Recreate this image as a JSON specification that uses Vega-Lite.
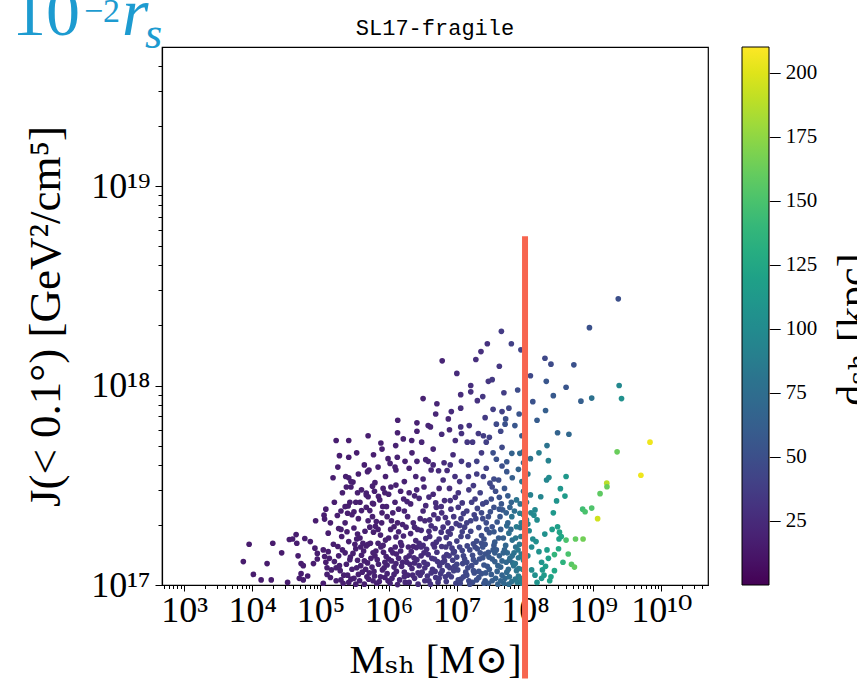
{
  "$schema": "https://vega.github.io/schema/vega-lite/v6.json",
  "width": 546,
  "height": 538,
  "autosize": {"type": "none"},
  "padding": {"left": 162, "top": 47, "right": 149, "bottom": 96},
  "background": "white",
  "title": {"text": "SL17-fragile", "font": "Liberation Mono", "fontSize": 22, "fontWeight": "normal", "color": "black", "anchor": "middle", "frame": "group", "baseline": "alphabetic", "offset": 0, "dy": 76},
  "config": {"view": {"stroke": "black", "strokeWidth": 1.2}},
  "datasets": {
    "pts": [
      {"m":2.33e9,"j":2.72e18,"d":50},{"m":8.8e8,"j":1.95e18,"d":52},{"m":5.2e8,"j":1.27e18,"d":52},{"m":2.4e8,"j":1.28e18,"d":47},
      {"m":1.96e8,"j":1.37e18,"d":45},{"m":2.05e8,"j":1.05e18,"d":56},{"m":2.6e8,"j":8.9e17,"d":58},{"m":8.7e7,"j":1.51e18,"d":42},
      {"m":6.3e7,"j":1.62e18,"d":40},{"m":4.5e7,"j":1.87e18,"d":36},{"m":2.8e7,"j":1.62e18,"d":30},{"m":2.26e7,"j":1.48e18,"d":28},
      {"m":6.1e6,"j":1.33e18,"d":21},{"m":7.8e7,"j":9.5e17,"d":48},{"m":3.3e7,"j":1.07e18,"d":34},{"m":2.9e7,"j":1.05e18,"d":33},
      {"m":1.6e7,"j":1.0e18,"d":28},{"m":1.6e7,"j":9.3e17,"d":29},{"m":1.14e7,"j":9.0e17,"d":26},{"m":2.4e7,"j":8.8e17,"d":33},
      {"m":5.1e6,"j":8.1e17,"d":22},{"m":4.9e6,"j":7.2e17,"d":22},{"m":8.3e6,"j":7.4e17,"d":25},{"m":1.14e7,"j":7.7e17,"d":27},
      {"m":3.4e7,"j":7.6e17,"d":38},{"m":5.8e7,"j":7.7e17,"d":44},{"m":6.0e6,"j":5.7e17,"d":25},{"m":1.5e8,"j":6.7e17,"d":60},
      {"m":3.0e8,"j":5.8e17,"d":66},{"m":4.4e8,"j":5.7e17,"d":70},{"m":2.1e8,"j":5.0e17,"d":80},{"m":9.5e8,"j":8.65e17,"d":78},
      {"m":6.6e8,"j":8.35e17,"d":62},{"m":2.6e9,"j":8.6e17,"d":105},{"m":2.4e9,"j":1.0e18,"d":98},{"m":6.8e9,"j":5.2e17,"d":205},
      {"m":5.0e9,"j":3.55e17,"d":205},{"m":2.24e9,"j":4.65e17,"d":162},{"m":1.58e9,"j":3.24e17,"d":188},{"m":1.59e9,"j":3.11e17,"d":162},
      {"m":1.26e9,"j":2.87e17,"d":158},{"m":1.16e9,"j":2.15e17,"d":195},{"m":9.5e8,"j":2.43e17,"d":152},{"m":7.0e8,"j":2.40e17,"d":145},
      {"m":7.6e8,"j":2.33e17,"d":150},{"m":4.0e8,"j":3.5e17,"d":112},{"m":2.07e8,"j":3.36e17,"d":96},{"m":2.24e8,"j":3.46e17,"d":100},
      {"m":2.2e8,"j":4.2e17,"d":92},{"m":1.6e8,"j":4.6e17,"d":88},{"m":3.3e8,"j":3.04e17,"d":110},{"m":3.85e8,"j":2.79e17,"d":115},
      {"m":2.9e8,"j":2.64e17,"d":108},{"m":1.7e8,"j":2.77e17,"d":95},{"m":1.2e8,"j":2.83e17,"d":90},{"m":1.4e8,"j":2.38e17,"d":98},
      {"m":1.35e8,"j":2.24e17,"d":100},{"m":1.5e8,"j":2.12e17,"d":102},{"m":3.0e8,"j":1.96e17,"d":118},{"m":3.2e8,"j":1.84e17,"d":122},
      {"m":3.4e8,"j":1.75e17,"d":125},{"m":3.15e8,"j":1.70e17,"d":120},{"m":1.95e8,"j":1.8e17,"d":105},{"m":1.25e8,"j":1.55e17,"d":100},
      {"m":1.75e8,"j":1.3e17,"d":108},{"m":1.8e8,"j":1.19e17,"d":112},{"m":1.75e8,"j":1.08e17,"d":110},{"m":1.25e8,"j":1.19e17,"d":102},
      {"m":4.0e8,"j":1.68e17,"d":150},{"m":5.5e8,"j":1.70e17,"d":160},{"m":7.1e8,"j":1.70e17,"d":165},{"m":2.7e8,"j":1.42e17,"d":138},
      {"m":4.3e8,"j":1.43e17,"d":150},{"m":4.8e8,"j":1.27e17,"d":155},{"m":5.3e8,"j":1.23e17,"d":160},
      {"m":3.8e7,"j":6.4e17,"d":46},{"m":5.2e7,"j":6.8e17,"d":50},{"m":5.1e7,"j":6.4e17,"d":52},{"m":7.1e7,"j":6.3e17,"d":56},
      {"m":1.14e7,"j":6.2e17,"d":30},{"m":1.52e7,"j":6.3e17,"d":31},{"m":1.17e7,"j":5.75e17,"d":30},{"m":1.42e7,"j":5.2e17,"d":33},
      {"m":1.7e7,"j":5.2e17,"d":34},{"m":2.07e7,"j":5.75e17,"d":35},{"m":2.45e7,"j":5.6e17,"d":37},{"m":2.7e7,"j":5.2e17,"d":39},
      {"m":3.4e7,"j":4.6e17,"d":50},{"m":3.8e7,"j":4.27e17,"d":52},{"m":6.4e7,"j":4.57e17,"d":65},{"m":8.4e7,"j":4.57e17,"d":72},
      {"m":9.4e7,"j":4.65e17,"d":74},{"m":8.0e6,"j":4.0e17,"d":30},{"m":1.17e7,"j":4.17e17,"d":33},{"m":1.48e7,"j":4.0e17,"d":36},
      {"m":1.96e7,"j":4.17e17,"d":40},{"m":5.4e7,"j":3.7e17,"d":56},{"m":4.1e7,"j":3.36e17,"d":48},{"m":2.45e7,"j":3.5e17,"d":40},
      {"m":3.06e7,"j":3.24e17,"d":44},{"m":1.96e7,"j":3.6e17,"d":37},{"m":1.48e7,"j":3.5e17,"d":34},{"m":9.4e6,"j":3.5e17,"d":30},
      {"m":6.3e6,"j":3.36e17,"d":27},{"m":7.5e7,"j":2.67e17,"d":80},{"m":8.4e7,"j":2.29e17,"d":86},{"m":1.05e8,"j":2.12e17,"d":95},
      {"m":6.4e7,"j":2.2e17,"d":80},{"m":7.5e7,"j":1.96e17,"d":88},{"m":5.4e7,"j":1.98e17,"d":72},{"m":5.8e7,"j":1.82e17,"d":76},
      {"m":1.36e6,"j":6.7e17,"d":18},{"m":2.6e6,"j":6.5e17,"d":19},{"m":3.8e6,"j":6.3e17,"d":21},{"m":4.1e6,"j":6.2e17,"d":21},
      {"m":1.35e6,"j":5.8e17,"d":18},{"m":1.27e6,"j":5.0e17,"d":19},{"m":1.64e6,"j":5.4e17,"d":19},{"m":2.18e6,"j":5.3e17,"d":19},
      {"m":3.05e6,"j":5.2e17,"d":21},{"m":7.7e5,"j":5.15e17,"d":17},{"m":1.7e5,"j":5.3e17,"d":16},{"m":2.6e5,"j":5.3e17,"d":16},
      {"m":1.9e5,"j":4.45e17,"d":16},{"m":2.6e5,"j":4.37e17,"d":16},{"m":9.8e5,"j":4.3e17,"d":18},{"m":1.34e6,"j":4.37e17,"d":19},
      {"m":1.28e6,"j":3.77e17,"d":19},{"m":2.6e6,"j":4.17e17,"d":20},{"m":3.5e6,"j":4.25e17,"d":22},{"m":2.5e6,"j":3.5e17,"d":21},
      {"m":4.2e6,"j":3.77e17,"d":24},{"m":5.4e6,"j":3.74e17,"d":25},{"m":6.5e6,"j":4.1e17,"d":26},{"m":4.4e5,"j":4.0e17,"d":17},
      {"m":5.15e5,"j":3.77e17,"d":17},{"m":4.9e5,"j":3.7e17,"d":18},{"m":1.53e5,"j":3.45e17,"d":16},{"m":2.6e5,"j":3.45e17,"d":17},
      {"m":3.0e5,"j":3.28e17,"d":17},{"m":2.8e5,"j":3.1e17,"d":17},{"m":6.3e5,"j":3.26e17,"d":18},{"m":1.08e6,"j":3.1e17,"d":19},
      {"m":1.28e6,"j":3.17e17,"d":19},{"m":4.7e5,"j":2.89e17,"d":18},{"m":4.7e5,"j":2.83e17,"d":18},{"m":7.1e5,"j":2.78e17,"d":18},
      {"m":7.4e5,"j":2.67e17,"d":18},{"m":2.7e5,"j":2.6e17,"d":17},{"m":3.3e5,"j":2.6e17,"d":17},{"m":2.55e5,"j":2.49e17,"d":17},
      {"m":4.0e5,"j":2.36e17,"d":17},{"m":5.3e5,"j":2.36e17,"d":18},{"m":2.5e5,"j":2.29e17,"d":17},{"m":8.5e4,"j":2.1e17,"d":16},
      {"m":1.13e5,"j":2.24e17,"d":16},{"m":1.15e5,"j":2.14e17,"d":16},{"m":1.77e5,"j":2.23e17,"d":16},{"m":9.3e5,"j":2.47e17,"d":19},
      {"m":1.24e6,"j":2.6e17,"d":19},{"m":1.66e6,"j":2.7e17,"d":20},{"m":1.86e6,"j":2.62e17,"d":21},{"m":2.58e6,"j":3.0e17,"d":22},
      {"m":2.8e6,"j":2.72e17,"d":23},{"m":3.9e6,"j":2.76e17,"d":25},{"m":4.9e6,"j":2.58e17,"d":27},{"m":5.9e6,"j":2.47e17,"d":28},
      {"m":1.05e6,"j":4.07e17,"d":19},{"m":1.24e6,"j":3.9e17,"d":19},{"m":1.74e6,"j":4.17e17,"d":19},{"m":3.8e6,"j":4.17e17,"d":22},
      {"m":4.5e6,"j":4.0e17,"d":24},{"m":5.8e5,"j":3.13e17,"d":18},{"m":8.3e5,"j":3.05e17,"d":18},{"m":2.3e5,"j":2.47e17,"d":17},
      {"m":3.1e5,"j":2.33e17,"d":17},{"m":3.5e5,"j":2.9e17,"d":17},{"m":5.0e5,"j":2.77e17,"d":18},{"m":5.8e5,"j":2.57e17,"d":18},
      {"m":8.2e5,"j":2.47e17,"d":18},{"m":2.35e5,"j":3.5e17,"d":17},{"m":2.8e5,"j":3.3e17,"d":17},{"m":2.4e5,"j":3.1e17,"d":17},
      {"m":7.4e3,"j":1.31e17,"d":15},{"m":9.0e3,"j":1.6e17,"d":15},{"m":1.04e4,"j":1.13e17,"d":15},{"m":1.35e4,"j":1.06e17,"d":15},
      {"m":1.65e4,"j":1.28e17,"d":15},{"m":1.9e4,"j":1.06e17,"d":15},{"m":2.0e4,"j":1.62e17,"d":15},{"m":3.3e4,"j":1.03e17,"d":16},
      {"m":3.5e4,"j":1.69e17,"d":16},{"m":4.4e4,"j":1.79e17,"d":16},{"m":4.5e4,"j":1.62e17,"d":16},{"m":3.9e4,"j":1.7e17,"d":16},
      {"m":5.9e4,"j":1.71e17,"d":16},{"m":7.1e4,"j":1.65e17,"d":16},{"m":4.7e4,"j":1.4e17,"d":16},{"m":5.2e4,"j":1.28e17,"d":16},
      {"m":5.6e4,"j":1.25e17,"d":16},{"m":5.2e4,"j":1.14e17,"d":16},{"m":6.5e4,"j":1.11e17,"d":16},{"m":8.3e4,"j":1.53e17,"d":16},
      {"m":9.0e4,"j":1.44e17,"d":16},{"m":9.0e4,"j":1.35e17,"d":16},{"m":1.1e5,"j":1.5e17,"d":16},{"m":1.15e5,"j":1.39e17,"d":16},
      {"m":7.9e4,"j":1.28e17,"d":16},{"m":1.85e5,"j":1.92e17,"d":16},{"m":2.05e5,"j":1.75e17,"d":16},{"m":1.8e5,"j":1.56e17,"d":16},
      {"m":2.7e4,"j":1.45e17,"d":15},{"m":4.9e4,"j":1.08e17,"d":16},{"m":5.6e4,"j":1.06e17,"d":16},
      {"m":1.1e5,"j":1.02e17,"d":16},{"m":1.4e5,"j":1.09e17,"d":17},{"m":1.7e5,"j":1.05e17,"d":17},{"m":2.2e5,"j":1.12e17,"d":17},
      {"m":2.6e5,"j":1.03e17,"d":17},{"m":3.1e5,"j":1.08e17,"d":18},{"m":3.6e5,"j":1.13e17,"d":18},{"m":4.4e5,"j":1.01e17,"d":18},
      {"m":5.1e5,"j":1.07e17,"d":18},{"m":6.2e5,"j":1.11e17,"d":19},{"m":7.3e5,"j":1.04e17,"d":19},{"m":8.8e5,"j":1.09e17,"d":19},
      {"m":1.05e6,"j":1.02e17,"d":21},{"m":1.2e6,"j":1.13e17,"d":21},{"m":1.45e6,"j":1.06e17,"d":22},{"m":1.7e6,"j":1.1e17,"d":23},
      {"m":2.0e6,"j":1.03e17,"d":24},{"m":2.4e6,"j":1.08e17,"d":25},{"m":2.9e6,"j":1.12e17,"d":27},{"m":3.4e6,"j":1.05e17,"d":29},
      {"m":4.1e6,"j":1.01e17,"d":31},{"m":4.9e6,"j":1.09e17,"d":32},{"m":5.8e6,"j":1.14e17,"d":34},{"m":7.0e6,"j":1.04e17,"d":36},
      {"m":8.3e6,"j":1.1e17,"d":38},{"m":9.7e6,"j":1.02e17,"d":41},{"m":1.15e7,"j":1.07e17,"d":43},{"m":1.4e7,"j":1.12e17,"d":46},
      {"m":1.7e7,"j":1.03e17,"d":49},{"m":2.1e7,"j":1.09e17,"d":52},{"m":2.6e7,"j":1.05e17,"d":56},{"m":3.2e7,"j":1.13e17,"d":60},
      {"m":4.0e7,"j":1.01e17,"d":65},{"m":5.1e7,"j":1.08e17,"d":70},{"m":6.4e7,"j":1.04e17,"d":78},{"m":8.0e7,"j":1.11e17,"d":86},
      {"m":1.5e8,"j":1.03e17,"d":108},{"m":1.9e8,"j":1.12e17,"d":114},{"m":2.3e8,"j":1.05e17,"d":120},
      {"m":1.25e5,"j":1.13e17,"d":17},{"m":2.0e5,"j":1.06e17,"d":17},{"m":3.3e5,"j":1.01e17,"d":18},{"m":4.8e5,"j":1.1e17,"d":18},
      {"m":6.7e5,"j":1.02e17,"d":19},{"m":9.5e5,"j":1.14e17,"d":20},{"m":1.35e6,"j":1.005e17,"d":21},{"m":1.9e6,"j":1.12e17,"d":23},
      {"m":2.7e6,"j":1.01e17,"d":26},{"m":3.7e6,"j":1.11e17,"d":30},{"m":5.3e6,"j":1.03e17,"d":33},{"m":7.6e6,"j":1.13e17,"d":37},
      {"m":1.05e7,"j":1.06e17,"d":42},{"m":1.55e7,"j":1.01e17,"d":47},{"m":2.3e7,"j":1.14e17,"d":53},{"m":2.9e7,"j":1.02e17,"d":58},
      {"m":4.6e7,"j":1.12e17,"d":67},{"m":5.8e7,"j":1.01e17,"d":74},{"m":7.2e7,"j":1.07e17,"d":82},{"m":9.0e7,"j":1.02e17,"d":92},
      {"m":1.25e5,"j":1.22e17,"d":17},{"m":1.6e5,"j":1.31e17,"d":17},{"m":1.95e5,"j":1.18e17,"d":17},{"m":2.4e5,"j":1.27e17,"d":17},
      {"m":2.9e5,"j":1.2e17,"d":18},{"m":3.5e5,"j":1.33e17,"d":18},{"m":4.1e5,"j":1.16e17,"d":18},{"m":4.9e5,"j":1.29e17,"d":18},
      {"m":5.7e5,"j":1.23e17,"d":19},{"m":6.8e5,"j":1.34e17,"d":19},{"m":8.1e5,"j":1.19e17,"d":19},{"m":9.5e5,"j":1.26e17,"d":20},
      {"m":1.1e6,"j":1.32e17,"d":20},{"m":1.3e6,"j":1.17e17,"d":21},{"m":1.55e6,"j":1.24e17,"d":22},{"m":1.85e6,"j":1.3e17,"d":23},
      {"m":2.2e6,"j":1.21e17,"d":24},{"m":2.6e6,"j":1.34e17,"d":25},{"m":3.1e6,"j":1.16e17,"d":28},{"m":3.7e6,"j":1.27e17,"d":29},
      {"m":4.4e6,"j":1.2e17,"d":31},{"m":5.2e6,"j":1.31e17,"d":32},{"m":6.1e6,"j":1.18e17,"d":35},{"m":7.3e6,"j":1.25e17,"d":37},
      {"m":8.7e6,"j":1.33e17,"d":38},{"m":1.03e7,"j":1.19e17,"d":41},{"m":1.22e7,"j":1.28e17,"d":43},{"m":1.45e7,"j":1.22e17,"d":46},
      {"m":1.75e7,"j":1.34e17,"d":48},{"m":2.1e7,"j":1.17e17,"d":52},{"m":2.5e7,"j":1.26e17,"d":55},{"m":3.0e7,"j":1.2e17,"d":58},
      {"m":3.6e7,"j":1.31e17,"d":62},{"m":4.4e7,"j":1.23e17,"d":66},{"m":5.4e7,"j":1.16e17,"d":72},{"m":6.6e7,"j":1.29e17,"d":77},
      {"m":8.1e7,"j":1.21e17,"d":85},{"m":9.5e7,"j":1.33e17,"d":92},{"m":2.0e8,"j":1.24e17,"d":116},{"m":2.7e8,"j":1.18e17,"d":125},
      {"m":1.45e5,"j":1.19e17,"d":17},{"m":2.7e5,"j":1.34e17,"d":17},{"m":3.9e5,"j":1.25e17,"d":18},{"m":6.1e5,"j":1.17e17,"d":19},
      {"m":8.8e5,"j":1.3e17,"d":19},{"m":1.2e6,"j":1.23e17,"d":21},{"m":1.7e6,"j":1.16e17,"d":22},{"m":2.4e6,"j":1.29e17,"d":24},
      {"m":3.4e6,"j":1.22e17,"d":28},{"m":4.8e6,"j":1.17e17,"d":31},{"m":6.6e6,"j":1.32e17,"d":34},{"m":9.3e6,"j":1.24e17,"d":39},
      {"m":1.35e7,"j":1.16e17,"d":45},{"m":1.9e7,"j":1.3e17,"d":49},{"m":2.8e7,"j":1.24e17,"d":56},{"m":3.9e7,"j":1.17e17,"d":64},
      {"m":5.9e7,"j":1.33e17,"d":73},{"m":7.5e7,"j":1.18e17,"d":82},
      {"m":2.3e5,"j":1.45e17,"d":17},{"m":2.75e5,"j":1.38e17,"d":17},{"m":3.3e5,"j":1.52e17,"d":17},{"m":4.0e5,"j":1.41e17,"d":18},
      {"m":4.7e5,"j":1.57e17,"d":18},{"m":5.5e5,"j":1.36e17,"d":18},{"m":6.5e5,"j":1.48e17,"d":18},{"m":7.7e5,"j":1.55e17,"d":19},
      {"m":9.2e5,"j":1.39e17,"d":19},{"m":1.08e6,"j":1.5e17,"d":19},{"m":1.3e6,"j":1.43e17,"d":20},{"m":1.55e6,"j":1.58e17,"d":21},
      {"m":1.8e6,"j":1.37e17,"d":22},{"m":2.15e6,"j":1.47e17,"d":23},{"m":2.55e6,"j":1.54e17,"d":24},{"m":3.0e6,"j":1.4e17,"d":26},
      {"m":3.6e6,"j":1.51e17,"d":27},{"m":4.3e6,"j":1.36e17,"d":30},{"m":5.1e6,"j":1.46e17,"d":31},{"m":6.0e6,"j":1.56e17,"d":32},
      {"m":7.1e6,"j":1.42e17,"d":35},{"m":8.5e6,"j":1.53e17,"d":36},{"m":1.0e7,"j":1.38e17,"d":40},{"m":1.2e7,"j":1.49e17,"d":42},
      {"m":1.42e7,"j":1.57e17,"d":43},{"m":1.7e7,"j":1.41e17,"d":47},{"m":2.0e7,"j":1.52e17,"d":49},{"m":2.4e7,"j":1.37e17,"d":53},
      {"m":2.9e7,"j":1.46e17,"d":55},{"m":3.5e7,"j":1.58e17,"d":57},{"m":4.2e7,"j":1.4e17,"d":63},{"m":5.0e7,"j":1.5e17,"d":67},
      {"m":6.0e7,"j":1.36e17,"d":74},{"m":7.3e7,"j":1.55e17,"d":78},{"m":8.8e7,"j":1.43e17,"d":88},{"m":1.6e8,"j":1.47e17,"d":106},
      {"m":2.2e8,"j":1.36e17,"d":118},{"m":3.1e8,"j":1.52e17,"d":128},
      {"m":1.3e5,"j":1.47e17,"d":16},{"m":3.0e5,"j":1.44e17,"d":17},{"m":5.0e5,"j":1.6e17,"d":18},{"m":8.4e5,"j":1.46e17,"d":19},
      {"m":1.4e6,"j":1.36e17,"d":21},{"m":2.3e6,"j":1.56e17,"d":22},{"m":3.3e6,"j":1.45e17,"d":26},{"m":4.7e6,"j":1.55e17,"d":29},
      {"m":6.5e6,"j":1.38e17,"d":33},{"m":9.2e6,"j":1.47e17,"d":37},{"m":1.3e7,"j":1.35e17,"d":43},{"m":1.85e7,"j":1.55e17,"d":46},
      {"m":2.6e7,"j":1.43e17,"d":53},{"m":3.8e7,"j":1.5e17,"d":59},{"m":5.5e7,"j":1.45e17,"d":70},{"m":8.0e7,"j":1.37e17,"d":84},
      {"m":1.3e5,"j":1.82e17,"d":16},{"m":2.6e5,"j":1.65e17,"d":17},{"m":3.1e5,"j":1.93e17,"d":17},{"m":3.8e5,"j":1.72e17,"d":17},
      {"m":4.5e5,"j":1.86e17,"d":18},{"m":5.4e5,"j":1.62e17,"d":18},{"m":6.4e5,"j":1.97e17,"d":18},{"m":7.6e5,"j":1.78e17,"d":19},
      {"m":9.0e5,"j":1.68e17,"d":19},{"m":1.07e6,"j":1.9e17,"d":19},{"m":1.28e6,"j":1.74e17,"d":20},{"m":1.5e6,"j":1.63e17,"d":21},
      {"m":1.8e6,"j":1.95e17,"d":21},{"m":2.1e6,"j":1.81e17,"d":22},{"m":2.5e6,"j":1.67e17,"d":24},{"m":3.0e6,"j":1.88e17,"d":25},
      {"m":3.5e6,"j":1.71e17,"d":27},{"m":4.2e6,"j":1.98e17,"d":27},{"m":5.0e6,"j":1.64e17,"d":30},{"m":5.9e6,"j":1.84e17,"d":31},
      {"m":7.0e6,"j":1.73e17,"d":33},{"m":8.4e6,"j":1.92e17,"d":34},{"m":1.0e7,"j":1.66e17,"d":38},{"m":1.2e7,"j":1.85e17,"d":39},
      {"m":1.45e7,"j":1.75e17,"d":42},{"m":1.75e7,"j":1.61e17,"d":46},{"m":2.1e7,"j":1.94e17,"d":46},{"m":2.5e7,"j":1.7e17,"d":51},
      {"m":3.0e7,"j":1.83e17,"d":53},{"m":3.6e7,"j":1.64e17,"d":59},{"m":4.4e7,"j":1.9e17,"d":60},{"m":6.5e7,"j":1.68e17,"d":76},
      {"m":1.15e8,"j":1.87e17,"d":98},{"m":1.45e8,"j":1.65e17,"d":104},{"m":2.5e8,"j":1.9e17,"d":116},
      {"m":2.0e5,"j":1.9e17,"d":17},{"m":4.2e5,"j":1.62e17,"d":18},{"m":6.0e5,"j":1.84e17,"d":18},{"m":1.2e6,"j":1.96e17,"d":19},
      {"m":1.65e6,"j":1.76e17,"d":21},{"m":2.8e6,"j":1.62e17,"d":25},{"m":3.9e6,"j":1.86e17,"d":27},{"m":5.5e6,"j":1.7e17,"d":30},
      {"m":7.8e6,"j":1.61e17,"d":35},{"m":1.1e7,"j":1.99e17,"d":37},{"m":1.6e7,"j":1.86e17,"d":42},{"m":2.3e7,"j":1.77e17,"d":48},
      {"m":3.3e7,"j":1.96e17,"d":52},{"m":4.8e7,"j":1.72e17,"d":63},{"m":8.5e7,"j":1.94e17,"d":82},
      {"m":1.4e5,"j":2.05e17,"d":16},{"m":2.0e5,"j":2.35e17,"d":17},{"m":3.6e5,"j":2.15e17,"d":17},{"m":4.7e5,"j":2.45e17,"d":17},
      {"m":6.6e5,"j":2.08e17,"d":18},{"m":8.0e5,"j":2.3e17,"d":18},{"m":1.1e6,"j":2.1e17,"d":19},{"m":1.4e6,"j":2.4e17,"d":19},
      {"m":1.9e6,"j":2.2e17,"d":20},{"m":2.3e6,"j":2.05e17,"d":22},{"m":3.2e6,"j":2.35e17,"d":23},{"m":4.0e6,"j":2.12e17,"d":25},
      {"m":5.0e6,"j":2.45e17,"d":26},{"m":6.8e6,"j":2.18e17,"d":29},{"m":8.2e6,"j":2.4e17,"d":31},{"m":9.8e6,"j":2.03e17,"d":35},
      {"m":1.25e7,"j":2.28e17,"d":37},{"m":1.6e7,"j":2.1e17,"d":41},{"m":2.0e7,"j":2.42e17,"d":42},{"m":2.4e7,"j":2.15e17,"d":46},
      {"m":3.1e7,"j":2.33e17,"d":50},{"m":3.9e7,"j":2.07e17,"d":56},{"m":4.7e7,"j":2.38e17,"d":58},{"m":9.5e7,"j":2.25e17,"d":90},
      {"m":1.1e8,"j":2.02e17,"d":96},
      {"m":2.9e5,"j":2.25e17,"d":17},{"m":5.8e5,"j":2.2e17,"d":18},{"m":1.6e6,"j":2.01e17,"d":20},{"m":2.9e6,"j":2.15e17,"d":23},
      {"m":4.6e6,"j":2.25e17,"d":26},{"m":7.4e6,"j":2.05e17,"d":31},{"m":1.05e7,"j":2.45e17,"d":33},{"m":1.4e7,"j":2.35e17,"d":37},
      {"m":1.8e7,"j":2.25e17,"d":40},{"m":2.7e7,"j":2.05e17,"d":48},{"m":3.5e7,"j":2.45e17,"d":50},{"m":4.3e7,"j":2.2e17,"d":56},
      {"m":5.3e7,"j":2.3e17,"d":62},{"m":6.0e7,"j":2.45e17,"d":66},
      {"m":1.6e5,"j":2.6e17,"d":16},{"m":2.1e5,"j":2.9e17,"d":17},{"m":4.0e5,"j":3.0e17,"d":17},{"m":6.0e5,"j":2.55e17,"d":18},
      {"m":8.8e5,"j":2.9e17,"d":18},{"m":1.5e6,"j":2.95e17,"d":19},{"m":2.1e6,"j":2.55e17,"d":20},{"m":3.3e6,"j":3.1e17,"d":22},
      {"m":4.5e6,"j":2.85e17,"d":24},{"m":6.6e6,"j":2.65e17,"d":27},{"m":7.8e6,"j":3.05e17,"d":28},{"m":9.5e6,"j":2.75e17,"d":30},
      {"m":1.2e7,"j":2.58e17,"d":34},{"m":1.5e7,"j":3.0e17,"d":34},{"m":1.85e7,"j":2.7e17,"d":38},{"m":2.2e7,"j":2.9e17,"d":40},
      {"m":2.7e7,"j":2.6e17,"d":44},{"m":3.3e7,"j":3.1e17,"d":44},{"m":4.2e7,"j":2.75e17,"d":52},{"m":5.0e7,"j":3.05e17,"d":55},
      {"m":6.3e7,"j":2.6e17,"d":66},{"m":9.5e7,"j":2.95e17,"d":80},
      {"m":1.0e6,"j":2.85e17,"d":19},{"m":2.4e6,"j":2.8e17,"d":21},{"m":5.5e6,"j":3.05e17,"d":24},{"m":1.05e7,"j":2.9e17,"d":31},
      {"m":1.75e7,"j":3.15e17,"d":35},{"m":2.4e7,"j":2.55e17,"d":42},{"m":3.7e7,"j":2.95e17,"d":48},{"m":5.6e7,"j":2.8e17,"d":60},
      {"m":8.5e7,"j":2.55e17,"d":80},
      {"m":1.8e5,"j":3.9e17,"d":16},{"m":3.6e5,"j":3.6e17,"d":17},{"m":7.0e5,"j":3.9e17,"d":18},{"m":9.0e5,"j":3.5e17,"d":18},
      {"m":1.7e6,"j":3.3e17,"d":19},{"m":2.0e6,"j":3.85e17,"d":19},{"m":3.2e6,"j":3.4e17,"d":22},{"m":7.2e6,"j":3.75e17,"d":26},
      {"m":1.1e7,"j":3.3e17,"d":31},{"m":2.7e7,"j":3.85e17,"d":40},{"m":3.5e7,"j":3.4e17,"d":46},{"m":4.6e7,"j":3.95e17,"d":50},
      {"m":6.5e7,"j":3.45e17,"d":62},{"m":8.0e7,"j":3.8e17,"d":66},{"m":1.0e8,"j":3.3e17,"d":82},
      {"m":3.4e5,"j":4.6e17,"d":16},{"m":6.0e5,"j":4.5e17,"d":17},{"m":8.0e5,"j":4.8e17,"d":17},{"m":2.2e6,"j":4.6e17,"d":19},
      {"m":4.5e6,"j":4.8e17,"d":21},{"m":8.8e6,"j":4.5e17,"d":26},{"m":2.3e7,"j":4.6e17,"d":36},{"m":4.6e7,"j":4.9e17,"d":46},
      {"m":5.4e7,"j":4.15e17,"d":56},{"m":1.2e8,"j":4.3e17,"d":78},
      {"m":5.0e5,"j":5.6e17,"d":17},{"m":2.6e6,"j":5.9e17,"d":19},{"m":7.8e6,"j":6.0e17,"d":23},{"m":9.5e6,"j":5.3e17,"d":27},
      {"m":3.0e7,"j":5.5e17,"d":40},{"m":4.4e7,"j":5.9e17,"d":44},{"m":9.0e7,"j":5.6e17,"d":60},
      {"m":7.5e6,"j":6.8e17,"d":22},{"m":2.6e7,"j":6.9e17,"d":35},{"m":4.6e7,"j":7.4e17,"d":40},{"m":8.2e7,"j":7.2e17,"d":55},
      {"m":2.0e8,"j":7.5e17,"d":62},
      {"m":3.2e6,"j":8.6e17,"d":19},{"m":2.0e7,"j":8.4e17,"d":30},{"m":4.9e7,"j":9.2e17,"d":38},{"m":1.3e8,"j":8.3e17,"d":52},
      {"m":4.0e8,"j":9.8e17,"d":55},
      {"m":1.0e7,"j":1.15e18,"d":25},{"m":4.2e7,"j":1.25e18,"d":33},{"m":1.2e8,"j":1.12e18,"d":45},{"m":1.9e7,"j":1.35e18,"d":28},
      {"m":9.5e7,"j":4.1e17,"d":72},{"m":1.1e8,"j":3.6e17,"d":85},{"m":9.0e7,"j":3.3e17,"d":82},{"m":1.05e8,"j":2.6e17,"d":90},
      {"m":1.22e8,"j":2.3e17,"d":98},
      {"m":1.2e5,"j":1.3e17,"d":16},{"m":1.55e5,"j":1.6e17,"d":17},{"m":1.85e5,"j":1.4e17,"d":17},{"m":2.15e5,"j":1.02e17,"d":17},
      {"m":2.45e5,"j":1.85e17,"d":17},{"m":3.4e5,"j":1.7e17,"d":17},{"m":3.75e5,"j":1.05e17,"d":18},{"m":4.3e5,"j":1.48e17,"d":18},
      {"m":5.3e5,"j":1.95e17,"d":18},{"m":5.9e5,"j":1.05e17,"d":19},{"m":7.0e5,"j":1.62e17,"d":19},{"m":7.9e5,"j":2.05e17,"d":18},
      {"m":8.6e5,"j":1.22e17,"d":19},{"m":1.0e6,"j":1.72e17,"d":19},{"m":1.15e6,"j":1.45e17,"d":20},{"m":1.4e6,"j":1.85e17,"d":20},
      {"m":1.6e6,"j":1.3e17,"d":22},{"m":1.95e6,"j":1.55e17,"d":22},{"m":2.25e6,"j":1.12e17,"d":24},{"m":2.65e6,"j":1.9e17,"d":23},
      {"m":3.2e6,"j":1.58e17,"d":26},{"m":3.9e6,"j":1.05e17,"d":30},{"m":4.5e6,"j":1.6e17,"d":28},{"m":5.6e6,"j":1.25e17,"d":33},
      {"m":6.3e6,"j":1.95e17,"d":30},{"m":7.7e6,"j":1.4e17,"d":35},{"m":9.0e6,"j":1.18e17,"d":39},{"m":1.1e7,"j":1.55e17,"d":40},
      {"m":1.3e7,"j":1.95e17,"d":39},{"m":1.5e7,"j":1.05e17,"d":46},{"m":1.65e7,"j":1.25e17,"d":46},{"m":1.95e7,"j":1.66e17,"d":47},
      {"m":2.2e7,"j":1.45e17,"d":51},{"m":2.5e7,"j":1.02e17,"d":56},{"m":2.75e7,"j":1.9e17,"d":50},{"m":3.3e7,"j":1.35e17,"d":60},
      {"m":3.7e7,"j":1.08e17,"d":64},{"m":4.1e7,"j":1.72e17,"d":60},{"m":4.6e7,"j":1.32e17,"d":67},{"m":5.2e7,"j":1.58e17,"d":68},
      {"m":5.7e7,"j":1.2e17,"d":73},{"m":6.2e7,"j":1.9e17,"d":72},{"m":6.9e7,"j":1.45e17,"d":80},{"m":7.7e7,"j":1.03e17,"d":86},
      {"m":8.3e7,"j":1.6e17,"d":84},{"m":9.2e7,"j":1.2e17,"d":92},
      {"m":1.7e5,"j":1.22e17,"d":17},{"m":2.5e5,"j":1.12e17,"d":17},{"m":3.2e5,"j":1.6e17,"d":17},{"m":4.6e5,"j":1.2e17,"d":18},
      {"m":6.3e5,"j":1.4e17,"d":18},{"m":9.8e5,"j":1.05e17,"d":20},{"m":1.25e6,"j":1.55e17,"d":20},{"m":2.0e6,"j":1.4e17,"d":23},
      {"m":2.8e6,"j":1.25e17,"d":26},{"m":4.0e6,"j":1.75e17,"d":27},{"m":6.8e6,"j":1.1e17,"d":36},{"m":8.0e6,"j":1.8e17,"d":33},
      {"m":1.25e7,"j":1.1e17,"d":44},{"m":1.8e7,"j":1.15e17,"d":49},{"m":2.6e7,"j":1.6e17,"d":52},{"m":3.4e7,"j":1.5e17,"d":58},
      {"m":4.9e7,"j":1.02e17,"d":70},{"m":6.8e7,"j":1.25e17,"d":80},{"m":8.7e7,"j":1.75e17,"d":86},
      {"m":1.2e5,"j":2.4e17,"d":16},{"m":3.8e5,"j":2.6e17,"d":17},{"m":6.2e5,"j":2.95e17,"d":18},{"m":1.15e6,"j":2.3e17,"d":19},
      {"m":2.0e6,"j":2.9e17,"d":20},{"m":3.5e6,"j":2.5e17,"d":24},{"m":5.3e6,"j":2.15e17,"d":28},{"m":8.0e6,"j":2.65e17,"d":30},
      {"m":1.15e7,"j":2.15e17,"d":37},{"m":1.65e7,"j":2.6e17,"d":38},{"m":2.3e7,"j":2.3e17,"d":45},{"m":3.2e7,"j":2.7e17,"d":48},
      {"m":4.5e7,"j":2.55e17,"d":56},{"m":7.0e7,"j":2.35e17,"d":76},{"m":8.8e7,"j":2.05e17,"d":88},
      {"m":1.3e8,"j":1.7e17,"d":100},{"m":1.1e8,"j":1.4e17,"d":98},{"m":1.4e8,"j":1.12e17,"d":104},{"m":2.1e8,"j":1.5e17,"d":116},
      {"m":2.4e8,"j":1.1e17,"d":122},{"m":3.6e8,"j":1.3e17,"d":135},{"m":2.6e8,"j":2.3e17,"d":112},
      {"m":1.35e5,"j":1.36e17,"d":17},{"m":1.9e5,"j":1.25e17,"d":17},{"m":2.1e5,"j":1.5e17,"d":17},{"m":2.8e5,"j":1.07e17,"d":17},
      {"m":3.4e5,"j":1.22e17,"d":18},{"m":3.9e5,"j":1.55e17,"d":18},{"m":4.4e5,"j":1.32e17,"d":18},{"m":5.2e5,"j":1.15e17,"d":18},
      {"m":5.9e5,"j":1.45e17,"d":19},{"m":7.1e5,"j":1.27e17,"d":19},{"m":7.6e5,"j":1.1e17,"d":19},{"m":8.3e5,"j":1.58e17,"d":19},
      {"m":1.0e6,"j":1.35e17,"d":20},{"m":1.12e6,"j":1.08e17,"d":21},{"m":1.28e6,"j":1.28e17,"d":21},{"m":1.5e6,"j":1.48e17,"d":21},
      {"m":1.75e6,"j":1.03e17,"d":23},{"m":2.05e6,"j":1.27e17,"d":23},{"m":2.35e6,"j":1.37e17,"d":24},{"m":2.7e6,"j":1.15e17,"d":26},
      {"m":3.0e6,"j":1.55e17,"d":25},{"m":3.3e6,"j":1.3e17,"d":28},{"m":3.8e6,"j":1.42e17,"d":28},{"m":4.2e6,"j":1.15e17,"d":31},
      {"m":4.7e6,"j":1.35e17,"d":31},{"m":5.5e6,"j":1.08e17,"d":34},{"m":6.2e6,"j":1.3e17,"d":34},{"m":6.9e6,"j":1.55e17,"d":33},
      {"m":7.9e6,"j":1.22e17,"d":37},{"m":8.9e6,"j":1.45e17,"d":37},{"m":1.0e7,"j":1.27e17,"d":41},{"m":1.12e7,"j":1.02e17,"d":43},
      {"m":1.25e7,"j":1.4e17,"d":43},{"m":1.4e7,"j":1.3e17,"d":45},{"m":1.55e7,"j":1.5e17,"d":45},{"m":1.75e7,"j":1.18e17,"d":49},
      {"m":1.95e7,"j":1.06e17,"d":51},{"m":2.15e7,"j":1.35e17,"d":51},{"m":2.4e7,"j":1.55e17,"d":52},{"m":2.65e7,"j":1.15e17,"d":56},
      {"m":2.95e7,"j":1.38e17,"d":57},{"m":3.3e7,"j":1.05e17,"d":61},{"m":3.6e7,"j":1.45e17,"d":60},{"m":4.0e7,"j":1.25e17,"d":65},
      {"m":4.4e7,"j":1.05e17,"d":67},{"m":4.8e7,"j":1.45e17,"d":66},{"m":5.3e7,"j":1.3e17,"d":70},{"m":5.9e7,"j":1.1e17,"d":75},
      {"m":6.5e7,"j":1.4e17,"d":77},{"m":7.2e7,"j":1.28e17,"d":82},{"m":7.9e7,"j":1.5e17,"d":84},{"m":8.6e7,"j":1.08e17,"d":90},
      {"m":9.4e7,"j":1.38e17,"d":92},
      {"m":2.3e5,"j":2.05e17,"d":17},{"m":3.5e5,"j":1.8e17,"d":17},{"m":5.0e5,"j":2.1e17,"d":18},{"m":7.0e5,"j":1.9e17,"d":18},
      {"m":9.5e5,"j":2.2e17,"d":19},{"m":1.35e6,"j":2.05e17,"d":19},{"m":1.7e6,"j":2.35e17,"d":20},{"m":2.4e6,"j":1.95e17,"d":23},
      {"m":3.4e6,"j":2.1e17,"d":24},{"m":4.8e6,"j":1.92e17,"d":28},{"m":6.0e6,"j":2.3e17,"d":28},{"m":7.5e6,"j":1.85e17,"d":32},
      {"m":9.0e6,"j":2.2e17,"d":33},{"m":1.15e7,"j":1.75e17,"d":39},{"m":1.4e7,"j":2.05e17,"d":40},{"m":1.9e7,"j":2.15e17,"d":43},
      {"m":2.3e7,"j":1.62e17,"d":49},{"m":2.9e7,"j":2.2e17,"d":48},{"m":3.5e7,"j":1.85e17,"d":57},{"m":4.2e7,"j":2.4e17,"d":56},
      {"m":5.6e7,"j":2.05e17,"d":68},{"m":7.3e7,"j":1.72e17,"d":82}
    ],
    "cut": [{"m": 1e8, "lo": 3.4e16, "hi": 5.6e18}]
  },
  "resolve": {"axis": {"y": "independent"}},
  "layer": [
    {
      "data": {"name": "pts"},
      "mark": {"type": "circle", "size": 32, "opacity": 1},
      "encoding": {
        "x": {
          "field": "m", "type": "quantitative",
          "scale": {"type": "log", "domain": [475, 4.82e10], "nice": false},
          "axis": {
            "grid": false, "domainColor": "black", "domainWidth": 1.2, "tickColor": "black", "tickWidth": 1,
            "values": [500,600,700,800,900,1000,2000,3000,4000,5000,6000,7000,8000,9000,10000,20000,30000,40000,50000,60000,70000,80000,90000,100000,200000,300000,400000,500000,600000,700000,800000,900000,1000000,2000000,3000000,4000000,5000000,6000000,7000000,8000000,9000000,10000000,20000000,30000000,40000000,50000000,60000000,70000000,80000000,90000000,100000000,200000000,300000000,400000000,500000000,600000000,700000000,800000000,900000000,1000000000,2000000000,3000000000,4000000000,5000000000,6000000000,7000000000,8000000000,9000000000,10000000000,20000000000,30000000000,40000000000],
            "tickSize": {"condition": {"test": "indexof([1000,10000,100000,1000000,10000000,100000000,1000000000,10000000000], datum.value) >= 0", "value": 6}, "value": 3.5},
            "labelExpr": "datum.value == 1000 ? '10³' : datum.value == 10000 ? '10⁴' : datum.value == 100000 ? '10⁵' : datum.value == 1000000 ? '10⁶' : datum.value == 10000000 ? '10⁷' : datum.value == 100000000 ? '10⁸' : datum.value == 1000000000 ? '10⁹' : datum.value == 10000000000 ? '10¹⁰' : ''",
            "labelFont": "Liberation Serif, DejaVu Serif", "labelFontSize": 36, "labelColor": "black", "labelPadding": 2,
            "labelOverlap": false, "labelFlush": false, "labelBound": false,
            "title": "Mₛₕ [M⊙]", "titleFont": "Liberation Serif, DejaVu Serif", "titleFontSize": 40, "titleFontWeight": "normal", "titleColor": "black",
            "titleX": 273, "titleY": 87, "titleBaseline": "alphabetic", "titleAlign": "center"
          }
        },
        "y": {
          "field": "j", "type": "quantitative",
          "scale": {"type": "log", "domain": [1e17, 4.98e19], "nice": false},
          "axis": {
            "grid": false, "domainColor": "black", "domainWidth": 1.2, "tickColor": "black", "tickWidth": 1,
            "values": [1e17,2e17,3e17,4e17,5e17,6e17,7e17,8e17,9e17,1e18,2e18,3e18,4e18,5e18,6e18,7e18,8e18,9e18,1e19,2e19,3e19,4e19],
            "tickSize": {"condition": {"test": "datum.value == 1e17 || datum.value == 1e18 || datum.value == 1e19", "value": 7}, "value": 4},
            "labelExpr": "datum.value == 1e17 ? '10¹⁷' : datum.value == 1e18 ? '10¹⁸' : datum.value == 1e19 ? '10¹⁹' : ''",
            "labelFont": "Liberation Serif, DejaVu Serif", "labelFontSize": 36, "labelColor": "black", "labelPadding": 5,
            "labelOverlap": false, "labelFlush": false, "labelBound": false,
            "title": "J(< 0.1°) [GeV²/cm⁵]", "titleFont": "Liberation Serif, DejaVu Serif", "titleFontSize": 45, "titleFontWeight": "normal", "titleColor": "black",
            "titleX": -94, "titleY": 269, "titleAngle": 270, "titleBaseline": "bottom", "titleAlign": "center"
          }
        },
        "color": {
          "field": "d", "type": "quantitative",
          "scale": {"scheme": "viridis", "domain": [0, 210]},
          "legend": {
            "orient": "none", "legendX": 580, "legendY": 0, "direction": "vertical", "title": null, "padding": 0,
            "gradientLength": 538, "gradientThickness": 27, "gradientStrokeColor": "black", "gradientStrokeWidth": 1,
            "values": [25, 50, 75, 100, 125, 150, 175, 200],
            "labelExpr": "'– ' + datum.label",
            "labelFont": "Liberation Serif, DejaVu Serif", "labelFontSize": 21, "labelColor": "black", "labelOffset": 1, "labelOverlap": false
          }
        }
      }
    },
    {
      "data": {"name": "cut"},
      "mark": {"type": "rule", "color": "#f7654f", "strokeWidth": 6},
      "encoding": {
        "x": {"field": "m", "type": "quantitative"},
        "y": {
          "field": "lo", "type": "quantitative",
          "axis": {
            "orient": "right", "grid": false, "labels": false, "ticks": false, "domain": false,
            "title": "dₛₕ [kpc]", "titleFont": "Liberation Serif, DejaVu Serif", "titleFontSize": 42, "titleFontWeight": "normal", "titleColor": "black",
            "titleX": 124, "titleY": 282, "titleAngle": 270, "titleBaseline": "top", "titleAlign": "center"
          }
        },
        "y2": {"field": "hi"}
      }
    },
    {
      "data": {"values": [{}]},
      "mark": {"type": "text", "text": "10", "font": "Liberation Serif, DejaVu Serif", "fontSize": 68, "color": "#1d9bd0", "align": "left", "baseline": "alphabetic"},
      "encoding": {
        "x": {"datum": 3.0, "type": "quantitative"},
        "y": {"datum": 5.7e19, "type": "quantitative", "axis": null}
      }
    },
    {
      "data": {"values": [{}]},
      "mark": {"type": "text", "text": "−2", "font": "Liberation Serif, DejaVu Serif", "fontSize": 34, "color": "#1d9bd0", "align": "left", "baseline": "alphabetic"},
      "encoding": {
        "x": {"datum": 34, "type": "quantitative"},
        "y": {"datum": 6.64e19, "type": "quantitative", "axis": null}
      }
    },
    {
      "data": {"values": [{}]},
      "mark": {"type": "text", "text": "r", "font": "Liberation Serif, DejaVu Serif", "fontSize": 68, "fontStyle": "italic", "color": "#1d9bd0", "align": "left", "baseline": "alphabetic"},
      "encoding": {
        "x": {"datum": 123, "type": "quantitative"},
        "y": {"datum": 5.7e19, "type": "quantitative", "axis": null}
      }
    },
    {
      "data": {"values": [{}]},
      "mark": {"type": "text", "text": "s", "font": "Liberation Serif, DejaVu Serif", "fontSize": 44, "fontStyle": "italic", "color": "#1d9bd0", "align": "left", "baseline": "alphabetic"},
      "encoding": {
        "x": {"datum": 268, "type": "quantitative"},
        "y": {"datum": 4.92e19, "type": "quantitative", "axis": null}
      }
    }
  ]
}
